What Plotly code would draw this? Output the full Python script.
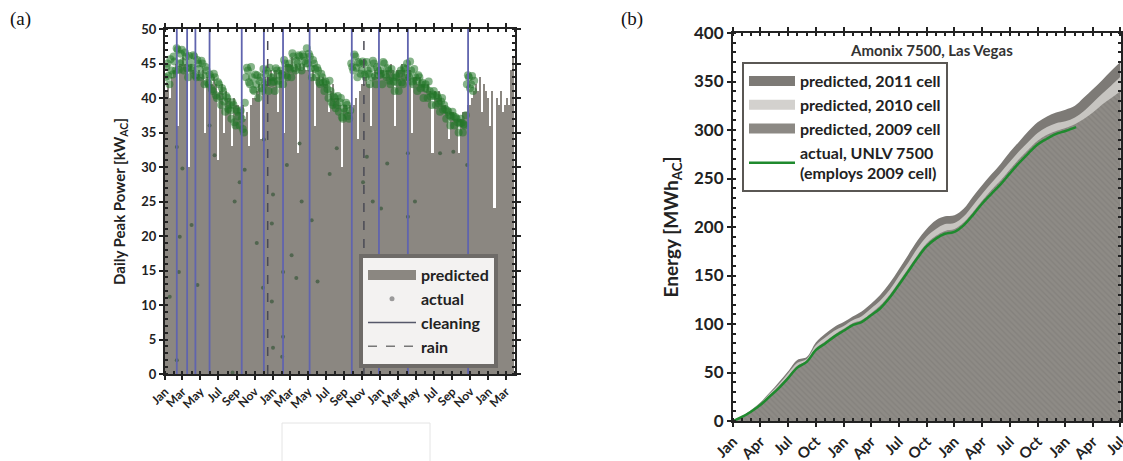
import plotly.graph_objects as go
import pandas as pd

# ---------------- panel (a) data: weekly predicted peak power [kW_AC]
pred_2010 = [41, 42, 40, 43, 44, 45, 36, 45, 46, 45, 44, 30, 45, 44, 45, 43, 44, 43, 44, 35, 43, 42,
             42, 43, 42, 31, 41, 42, 35, 41, 40, 40, 33, 40, 39, 39, 38, 39, 37, 38, 33, 39, 40, 40,
             41, 42, 34, 42, 43, 42, 43, 44]
pred_2011 = [43, 44, 38, 44, 44, 35, 45, 45, 45, 46, 44, 45, 32, 45, 44, 45, 44, 44, 43, 44, 36, 43,
             43, 42, 43, 42, 42, 38, 41, 42, 40, 40, 39, 30, 39, 39, 38, 39, 38, 39, 40, 34, 41, 42,
             42, 43, 42, 36, 43, 44, 43, 44]
pred_2012 = [44, 44, 43, 44, 44, 45, 44, 36, 44, 44, 45, 44, 43, 43, 44, 35, 43, 43, 42, 43, 42, 42,
             41, 42, 41, 32, 41, 40, 41, 40, 39, 39, 38, 34, 38, 38, 37, 37, 32, 37, 38, 38, 39, 39,
             40, 41, 42, 41, 43, 38, 42, 41]
pred_2013 = [40, 36, 41, 24, 40, 39, 41, 38, 39, 40, 39, 44, 46]

# actual peak power [kW_AC], early-week readings
act_2010 = [43, 45, 42, 44, 46, 44, 47, 45, 47, 44, 46, 43, 45, 44, 46, 43, 45, 43, 45, 42, 44, 42,
            43, 41, 43, 40, 42, 39, 41, 38, 40, 39, 37, 39, 36, 38, 36, 37, 35, 43, 44, 42, 43, 41,
            42, 40, 43, 41, 42, 44, 41, 43]
act_2011 = [43, 41, 44, 42, 44, 42, 45, 43, 45, 43, 46, 44, 45, 46, 44, 46, 45, 45, 46, 43, 45, 43,
            44, 42, 43, 41, 42, 40, 41, 39, 40, 39, 38, 40, 37, 38, 39, 37, 45, 44, 46, 43, 45, 44,
            45, 43, 44, 42, 43, 45, 42, 44]
act_2012 = [44, 42, 45, 43, 44, 42, 43, 41, 43, 41, 44, 42, 43, 45, 43, 44, 42, 43, 41, 43, 42, 40,
            42, 40, 41, 39, 41, 39, 40, 38, 40, 39, 37, 38, 36, 38, 36, 37, 35, 37, 35, 36, 42, 43,
            42, 41]
# actual peak power [kW_AC], mid-week readings
act_mid_2010 = [44.5, 43.2, 45.6, 43.4, 45.3, 47.2, 44.1, 46.4, 45.2, 46.6, 44.3, 46.1, 44.4, 46.2, 43.3, 45.5,
                44.2, 45.4, 43.3, 44.5, 42.2, 43.4, 41.3, 43.5, 40.4, 42.3, 40.2, 41.4, 39.5, 40.3, 38.4, 38.2,
                39.4, 36.5, 38.3, 37.4, 38.2, 35.5, 39.3, 44.4, 42.3, 44.5, 41.2, 43.4, 43.3, 42.5, 41.4, 44.2,
                43.5, 42.3, 44.4, 42.2]
act_mid_2011 = [42.4, 44.3, 42.5, 43.2, 43.4, 45.5, 43.3, 44.4, 44.2, 46.5, 44.3, 45.4, 46.2, 44.5, 46.3, 45.4,
                47.2, 46.4, 44.3, 45.5, 44.2, 44.4, 42.3, 43.5, 42.2, 42.4, 41.3, 42.5, 39.4, 40.2, 38.5, 40.3,
                39.4, 37.2, 38.5, 39.3, 37.4, 38.2, 44.5, 46.3, 44.4, 45.2, 43.5, 45.3, 43.4, 45.2, 43.5, 44.3,
                45.4, 43.2, 44.5, 43.3]
act_mid_2012 = [43.5, 45.2, 43.4, 44.3, 42.5, 44.2, 42.4, 43.3, 42.2, 43.5, 42.3, 44.4, 44.2, 43.5, 45.3, 42.4,
                44.2, 42.5, 43.3, 41.4, 42.2, 41.5, 41.3, 42.4, 40.2, 40.5, 40.3, 40.4, 39.2, 39.5, 38.3, 38.4,
                38.2, 37.5, 37.3, 37.4, 37.2, 36.5, 36.3, 36.4, 36.2, 37.5, 43.3, 41.4, 43.2, 42.5]

# low actual readings (individual days)
low_dates = ["2010-01-17", "2010-02-10", "2010-02-10", "2010-02-17", "2010-02-20", "2010-03-01",
             "2010-04-01", "2010-04-21", "2010-06-01", "2010-06-18", "2010-08-18", "2010-08-25",
             "2010-09-11", "2010-09-28", "2010-11-08", "2010-11-29", "2010-12-02", "2010-12-29",
             "2010-12-29", "2011-01-02", "2011-01-02", "2011-02-02", "2011-02-05", "2011-02-05",
             "2011-02-18", "2011-03-06", "2011-03-22", "2011-04-02", "2011-04-09", "2011-05-13",
             "2011-06-02", "2011-07-13", "2011-08-06", "2011-11-03", "2011-11-16", "2011-12-06",
             "2012-01-03", "2012-01-24", "2012-04-03", "2012-04-03", "2012-04-27", "2012-07-21",
             "2012-09-04", "2012-10-21"]
low_vals = [11.2, 2.0, 32.9, 14.8, 19.9, 29.8,
            21.6, 12.9, 36.0, 31.7, 0.2, 25.0,
            27.8, 29.6, 19.0, 12.5, 34.0, 10.5,
            21.8, 3.8, 26.0, 2.5, 14.8, 5.4,
            30.3, 17.2, 13.9, 33.4, 25.0, 22.3,
            13.4, 29.0, 32.7, 27.8, 31.5, 25.0,
            24.0, 30.5, 22.8, 32.0, 25.0, 32.0,
            32.2, 30.3]

cleaning_dates = ["2010-02-10", "2010-03-17", "2010-04-14", "2010-06-01", "2010-09-18", "2010-12-02",
                  "2011-02-05", "2011-05-06", "2011-09-26", "2011-12-27", "2012-04-03", "2012-10-24"]
rain_dates = ["2010-12-15", "2011-11-06"]

# ---------------- panel (b) data: cumulative energy [MWh_AC], monthly from Jan 2010
pred_2011cell = [0, 5, 11, 19, 29, 40, 51, 63, 66, 81, 90, 97,
                 102, 108, 113, 121, 130, 142, 156, 171, 186, 198, 207, 211,
                 212, 219, 231, 243, 254, 265, 277, 288, 299, 308, 314, 318,
                 321, 325, 333, 342, 351, 361, 370]
pred_2010cell = [0, 5, 11, 18, 28, 38, 49, 60, 64, 78, 86, 93,
                 98, 104, 108, 116, 124, 135, 149, 163, 178, 190, 198, 203,
                 204, 211, 222, 234, 245, 256, 267, 278, 288, 297, 303, 307,
                 309, 313, 319, 328, 337, 346, 355]
pred_2009cell = [0, 5, 10, 17, 26, 36, 46, 57, 62, 75, 82, 89,
                 95, 101, 104, 111, 119, 130, 143, 157, 171, 183, 191, 196,
                 198, 205, 215, 227, 238, 248, 259, 270, 280, 289, 295, 299,
                 302, 306, 311, 318, 326, 333, 340]
actual_unlv = [0, 4.4, 9.6, 16.5, 25, 34, 44, 55, 61, 73, 80, 87,
               93, 99, 102, 109, 116, 127, 140, 154, 168, 180, 188, 193,
               195, 202, 212, 224, 234, 244, 255, 266, 276, 285, 291, 296,
               299, 303]
actual_end_date = "2013-02-05"

# ---------------- build
pred_w = pred_2010 + pred_2011 + pred_2012 + pred_2013
act_w = act_2010 + act_2011 + act_2012
act_m = act_mid_2010 + act_mid_2011 + act_mid_2012
pred_x = pd.date_range("2010-01-01", periods=len(pred_w), freq="7D") + pd.Timedelta(hours=84)
act_x = pd.date_range("2010-01-01", periods=len(act_w), freq="7D") + pd.Timedelta(hours=24)
mid_x = pd.date_range("2010-01-01", periods=len(act_m), freq="7D") + pd.Timedelta(hours=108)

months = pd.date_range("2010-01-01", periods=len(pred_2009cell), freq="MS")
act_b_x = list(pd.date_range("2010-01-01", periods=len(actual_unlv) - 1, freq="MS")) + [pd.Timestamp(actual_end_date)]


def vlines(dates, top):
    xs, ys = [], []
    for d in dates:
        xs += [d, d, None]
        ys += [0, top, None]
    return xs, ys


FONT = "Lato"
DARK = "#222222"
GREEN_DOT = "rgba(34,118,40,0.55)"
fig = go.Figure()

# (a) predicted bars
fig.add_trace(go.Bar(x=pred_x, y=pred_w, width=7 * 86400000, marker=dict(color="#8b8781", line=dict(width=0)),
                     xaxis="x", yaxis="y", showlegend=False, hoverinfo="skip"))
# (a) actual
fig.add_trace(go.Scatter(x=act_x, y=act_w, mode="markers", xaxis="x", yaxis="y",
                         marker=dict(size=8, color=GREEN_DOT, line=dict(width=0)), showlegend=False))
fig.add_trace(go.Scatter(x=mid_x, y=act_m, mode="markers", xaxis="x", yaxis="y",
                         marker=dict(size=8, color=GREEN_DOT, line=dict(width=0)), showlegend=False))
fig.add_trace(go.Scatter(x=low_dates, y=low_vals, mode="markers", xaxis="x", yaxis="y",
                         marker=dict(size=4, color="rgba(70,95,70,0.85)", line=dict(width=0)), showlegend=False))
# (a) cleaning / rain lines
cx, cy = vlines(cleaning_dates, 50)
fig.add_trace(go.Scatter(x=cx, y=cy, mode="lines", xaxis="x", yaxis="y",
                         line=dict(color="#6064ae", width=1.8), showlegend=False))
rx, ry = vlines(rain_dates, 50)
fig.add_trace(go.Scatter(x=rx, y=ry, mode="lines", xaxis="x", yaxis="y",
                         line=dict(color="#4a4a55", width=1.5, dash="dash"), showlegend=False))
# (a) legend entries
fig.add_trace(go.Scatter(x=[None], y=[None], mode="lines", line=dict(width=10, color="#8b8781"),
                         name="predicted", legend="legend"))
fig.add_trace(go.Scatter(x=[None], y=[None], mode="markers", marker=dict(size=5, color="#9a9a9a"),
                         name="actual", legend="legend"))
fig.add_trace(go.Scatter(x=[None], y=[None], mode="lines", line=dict(color="#55586a", width=1.5),
                         name="cleaning", legend="legend"))
fig.add_trace(go.Scatter(x=[None], y=[None], mode="lines", line=dict(color="#777777", width=1.5, dash="dash"),
                         name="rain", legend="legend"))

# (b) areas
fig.add_trace(go.Scatter(x=months, y=pred_2011cell, mode="lines", fill="tozeroy", fillcolor="#7d7a76",
                         line=dict(width=0, color="#7d7a76", shape="spline"), showlegend=False,
                         xaxis="x2", yaxis="y2"))
fig.add_trace(go.Scatter(x=months, y=pred_2010cell, mode="lines", fill="tozeroy", fillcolor="#c7c5c1",
                         line=dict(width=0, color="#c7c5c1", shape="spline"), showlegend=False,
                         xaxis="x2", yaxis="y2"))
fig.add_trace(go.Scatter(x=months, y=pred_2009cell, mode="lines", fill="tozeroy", fillcolor="#8c8984",
                         fillpattern=dict(shape="\\", fgcolor="#7a7773", bgcolor="#8e8b86", size=4, solidity=0.35),
                         line=dict(width=0, color="#8c8984", shape="spline"), showlegend=False,
                         xaxis="x2", yaxis="y2"))
fig.add_trace(go.Scatter(x=act_b_x, y=actual_unlv, mode="lines", line=dict(color="#1f8a2e", width=2.5, shape="spline"),
                         showlegend=False, xaxis="x2", yaxis="y2"))
# (b) legend entries
for nm, col in [("predicted, 2011 cell", "#7d7a76"), ("predicted, 2010 cell", "#d3d1ce"),
                ("predicted, 2009 cell", "#8c8984")]:
    fig.add_trace(go.Scatter(x=[None], y=[None], mode="lines", line=dict(width=10, color=col),
                             name=nm, legend="legend2", xaxis="x2", yaxis="y2"))
fig.add_trace(go.Scatter(x=[None], y=[None], mode="lines", line=dict(width=2.5, color="#1f8a2e"),
                         name="actual, UNLV 7500<br>(employs 2009 cell)", legend="legend2", xaxis="x2", yaxis="y2"))

axis_common = dict(showline=True, linecolor=DARK, linewidth=2, mirror="allticks", ticks="outside",
                   ticklen=4, tickcolor=DARK, tickwidth=1.5, showgrid=False, zeroline=False, automargin=False,
                   ticklabeloverflow="allow")

fig.update_layout(
    width=1123, height=461, margin=dict(l=0, r=0, t=0, b=0, autoexpand=False), autosize=False,
    paper_bgcolor="white", plot_bgcolor="white", bargap=0,
    font=dict(family=FONT, color=DARK),
    xaxis=dict(domain=[165 / 1123, 515 / 1123], anchor="y", type="date",
               range=["2010-01-01", "2013-04-01"], dtick="M2", tick0="2010-01-01", tickformat="%b",
               tickangle=-45, tickfont=dict(size=12, weight="bold", color=DARK),
               minor=dict(dtick="M1", ticks="inside", ticklen=3, tickcolor=DARK), **axis_common),
    yaxis=dict(domain=[87 / 461, 432 / 461], anchor="x", range=[0, 50], dtick=5,
               tickfont=dict(size=13, weight="bold", color=DARK),
               title=dict(text="Daily Peak Power [kW<sub>AC</sub>]", font=dict(size=15, weight="bold"), standoff=12),
               minor=dict(dtick=1, ticks="inside", ticklen=3, tickcolor=DARK), **axis_common),
    xaxis2=dict(domain=[733 / 1123, 1121 / 1123], anchor="y2", type="date",
                range=["2010-01-01", "2013-07-03"], dtick="M3", tick0="2010-01-01", tickformat="%b",
                tickangle=-45, tickfont=dict(size=15, weight="bold", color=DARK),
                minor=dict(dtick="M1", ticks="inside", ticklen=3, tickcolor=DARK), **axis_common),
    yaxis2=dict(domain=[40 / 461, 428 / 461], anchor="x2", range=[0, 400], dtick=50,
                tickfont=dict(size=17, weight="bold", color=DARK),
                title=dict(text="Energy [MWh<sub>AC</sub>]", font=dict(size=19, weight="bold"), standoff=10),
                minor=dict(dtick=10, ticks="inside", ticklen=3, tickcolor=DARK), **axis_common),
    legend=dict(x=359 / 1123, y=1 - 254 / 461, xanchor="left", yanchor="top",
                bgcolor="#f3f2f1", bordercolor="#6e6b68", borderwidth=4,
                font=dict(size=16, weight="bold", color=DARK), itemwidth=48, tracegroupgap=0),
    legend2=dict(x=742 / 1123, y=1 - 62 / 461, xanchor="left", yanchor="top",
                 bgcolor="white", bordercolor="#5a5754", borderwidth=2,
                 font=dict(size=16, weight="bold", color=DARK), itemwidth=46, tracegroupgap=0),
    annotations=[
        dict(text="(a)", x=8 / 1123, y=1 - 6 / 461, xref="paper", yref="paper", xanchor="left", yanchor="top",
             showarrow=False, font=dict(family="Liberation Serif", size=19, color="#111")),
        dict(text="(b)", x=619 / 1123, y=1 - 6 / 461, xref="paper", yref="paper", xanchor="left", yanchor="top",
             showarrow=False, font=dict(family="Liberation Serif", size=19, color="#111")),
        dict(text="Amonix 7500, Las Vegas", x=931 / 1123, y=1 - 50 / 461, xref="paper", yref="paper",
             xanchor="center", yanchor="middle", showarrow=False,
             font=dict(size=15, weight="bold", color="#333")),
    ],
    shapes=[dict(type="rect", xref="paper", yref="paper", x0=282 / 1123, x1=430 / 1123, y0=-0.01, y1=38 / 461,
                 line=dict(color="#e4e4e4", width=1), fillcolor="rgba(0,0,0,0)")],
)

fig.write_html("out.html")
